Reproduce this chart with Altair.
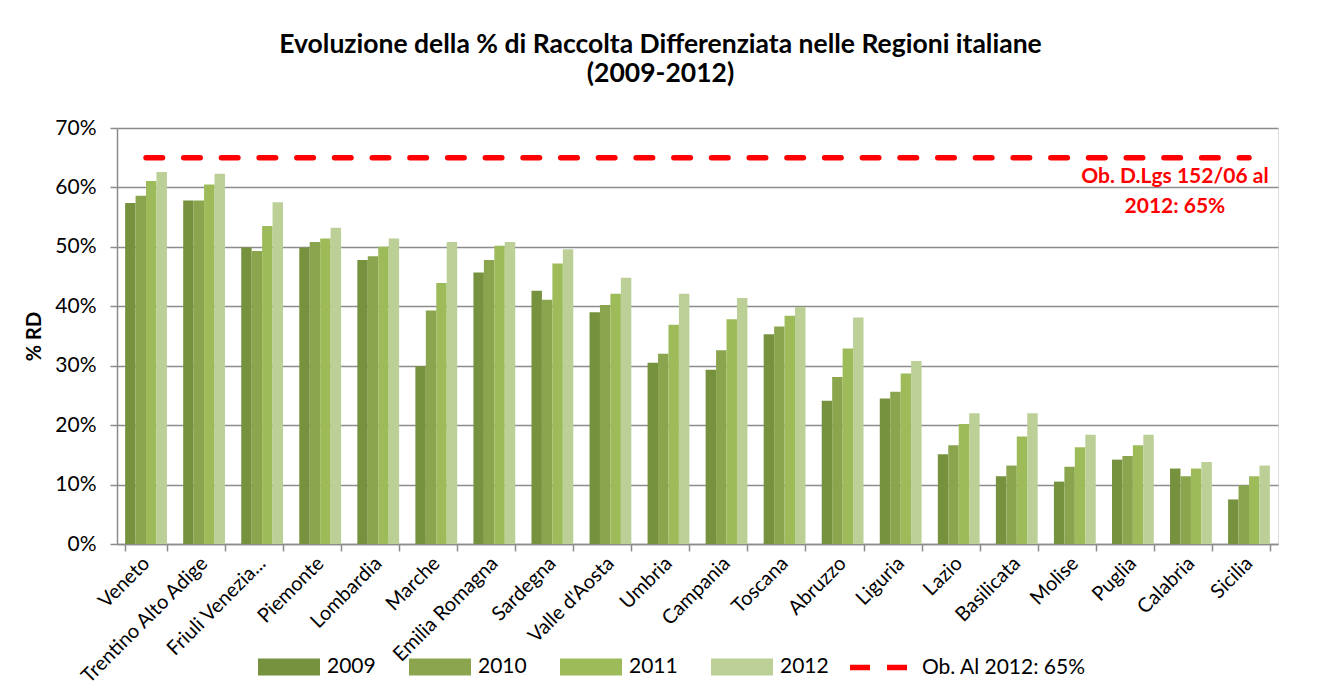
import altair as alt
import pandas as pd

regions = ["Veneto", "Trentino Alto Adige", "Friuli Venezia Giulia", "Piemonte", "Lombardia",
           "Marche", "Emilia Romagna", "Sardegna", "Valle d'Aosta", "Umbria", "Campania",
           "Toscana", "Abruzzo", "Liguria", "Lazio", "Basilicata", "Molise", "Puglia",
           "Calabria", "Sicilia"]
years = ["2009", "2010", "2011", "2012"]
v2009 = [57.4, 57.8, 49.9, 49.9, 47.8, 29.9, 45.7, 42.6, 39.0, 30.5, 29.3, 35.3, 24.1, 24.5, 15.1, 11.4, 10.5, 14.2, 12.7, 7.5]
v2010 = [58.6, 57.8, 49.3, 50.8, 48.4, 39.3, 47.8, 41.1, 40.2, 32.0, 32.6, 36.6, 28.1, 25.6, 16.6, 13.2, 13.0, 14.8, 11.4, 9.9]
v2011 = [61.1, 60.5, 53.5, 51.4, 50.0, 43.9, 50.2, 47.2, 42.1, 36.9, 37.8, 38.4, 32.9, 28.7, 20.2, 18.1, 16.3, 16.6, 12.7, 11.4]
v2012 = [62.6, 62.3, 57.5, 53.2, 51.4, 50.8, 50.8, 49.6, 44.8, 42.1, 41.4, 39.9, 38.1, 30.8, 22.0, 22.0, 18.4, 18.4, 13.8, 13.2]
colors = ["#77923f", "#8aa54e", "#9dbb59", "#bbcf97"]
target = 65
target_label = "Ob. Al 2012: 65%"
note_text = "Ob. D.Lgs 152/06 al\n2012: 65%"
title_lines = ["Evoluzione della % di Raccolta Differenziata nelle Regioni italiane", "(2009-2012)"]

rows = []
for yr, vals in zip(years, [v2009, v2010, v2011, v2012]):
    for r, v in zip(regions, vals):
        rows.append({"region": r, "year": yr, "value": v})
df = pd.DataFrame(rows)
line_df = pd.DataFrame({"region": regions, "value": [target] * len(regions), "label": target_label})
note_df = pd.DataFrame({"region": ["Calabria"], "value": [60.8], "text": [note_text]})

FONT = "Lato"
grid_color = "#8c8c8c"

x_enc = alt.X("region:N", sort=regions, title=None,
              scale=alt.Scale(paddingInner=0.28, paddingOuter=0.14),
              axis=alt.Axis(labelAngle=-45, labelAlign="right", labelBaseline="middle",
                            labelFont=FONT, labelFontSize=20, labelColor="#000000",
                            tickBand="extent", tickSize=7, tickColor=grid_color, tickWidth=1.5,
                            domainColor=grid_color, domainWidth=1.5, labelPadding=9,
                            labelLimit=300, grid=False,
                            labelExpr="datum.label == 'Friuli Venezia Giulia' ? 'Friuli Venezia...' : datum.label"))
y_scale = alt.Scale(domain=[0, 70], nice=False)
y_axis = alt.Axis(values=[0, 10, 20, 30, 40, 50, 60, 70], labelExpr="datum.value + '%'",
                  title="% RD", titleFont=FONT, titleFontSize=20, titleFontWeight="bold",
                  titleColor="#000000", titlePadding=10,
                  labelFont=FONT, labelFontSize=21, labelColor="#000000", labelPadding=14,
                  gridColor=grid_color, gridWidth=1.5, tickColor=grid_color, tickWidth=1.5,
                  tickSize=7, domainColor=grid_color, domainWidth=1.5)

bars = alt.Chart(df).mark_bar().encode(
    x=x_enc,
    xOffset=alt.XOffset("year:N", sort=years),
    y=alt.Y("value:Q", scale=y_scale, axis=y_axis),
    fill=alt.Fill("year:N", sort=years, scale=alt.Scale(domain=years, range=colors),
                  legend=alt.Legend(orient="none", legendX=141, legendY=508, direction="horizontal",
                                    title=None, symbolType="M-1,-0.274H1V0.274H-1Z", symbolSize=3844,
                                    symbolStrokeWidth=0, symbolOpacity=1, labelFont=FONT,
                                    labelFontSize=21, labelColor="#000000", labelOffset=7,
                                    columnPadding=33)),
)

line = alt.Chart(line_df).mark_line(strokeWidth=5.5, strokeDash=[16.5, 21.2], strokeCap="round").encode(
    x=alt.X("region:N", sort=regions),
    y=alt.Y("value:Q", scale=y_scale),
    stroke=alt.Stroke("label:N", scale=alt.Scale(domain=[target_label], range=["#ff0000"]),
                      legend=alt.Legend(orient="none", legendX=730, legendY=508, title=None,
                                        symbolType="stroke", symbolSize=3249, symbolStrokeWidth=5.5,
                                        symbolDash=[20, 17], labelFont=FONT, labelFontSize=21,
                                        labelColor="#000000", labelOffset=12, labelLimit=400)),
)

note = alt.Chart(note_df).mark_text(font=FONT, fontSize=21, fontWeight="bold", color="#ff0000",
                                    align="center", baseline="alphabetic", lineBreak="\n",
                                    lineHeight=30, dx=-16).encode(
    x=alt.X("region:N", sort=regions),
    y=alt.Y("value:Q", scale=y_scale),
    text="text:N",
)

chart = alt.layer(bars, line, note).properties(
    width=1161, height=416,
    padding={"left": 109, "top": 120, "right": 30, "bottom": 140},
    autosize=alt.AutoSizeParams(type="none"),
    title=alt.TitleParams(title_lines, font=FONT, fontSize=26.5, fontWeight="bold", color="#000000",
                          anchor="middle", offset=30, lineHeight=29, dx=-37),
).configure_view(strokeWidth=0).configure(background="#ffffff")

chart.save("out.html", embed_options={"renderer": "svg", "actions": False})
